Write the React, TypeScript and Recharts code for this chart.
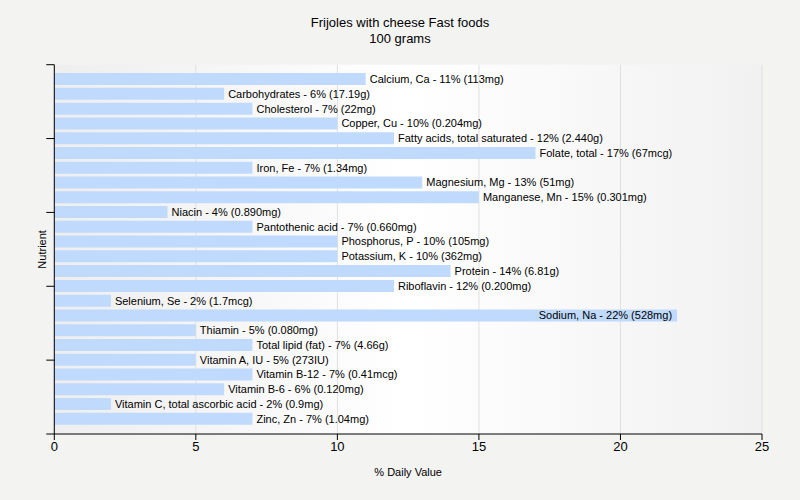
import React from 'react';
import { BarChart, Bar, XAxis, YAxis, CartesianGrid, LabelList, Label } from 'recharts';

const nutrients = [
  'Calcium, Ca', 'Carbohydrates', 'Cholesterol', 'Copper, Cu', 'Fatty acids, total saturated',
  'Folate, total', 'Iron, Fe', 'Magnesium, Mg', 'Manganese, Mn', 'Niacin', 'Pantothenic acid',
  'Phosphorus, P', 'Potassium, K', 'Protein', 'Riboflavin', 'Selenium, Se', 'Sodium, Na',
  'Thiamin', 'Total lipid (fat)', 'Vitamin A, IU', 'Vitamin B-12', 'Vitamin B-6',
  'Vitamin C, total ascorbic acid', 'Zinc, Zn',
];
const dailyValues = [11, 6, 7, 10, 12, 17, 7, 13, 15, 4, 7, 10, 10, 14, 12, 2, 22, 5, 7, 5, 7, 6, 2, 7];
const amounts = [
  '113mg', '17.19g', '22mg', '0.204mg', '2.440g', '67mcg', '1.34mg', '51mg', '0.301mg', '0.890mg',
  '0.660mg', '105mg', '362mg', '6.81g', '0.200mg', '1.7mcg', '528mg', '0.080mg', '4.66g', '273IU',
  '0.41mcg', '0.120mg', '0.9mg', '1.04mg',
];
const xTicks = [0, 5, 10, 15, 20, 25];
const yTicks = [0, 5, 10, 15, 20, 25];
const X_MAX = 25;

const data = nutrients.map((n, i) => ({
  pos: i + 1,
  value: dailyValues[i],
  label: `${n} - ${dailyValues[i]}% (${amounts[i]})`,
}));

const FONT = '"Liberation Sans", Arial, sans-serif';

let ctx: CanvasRenderingContext2D | null = null;
function measure(text: string): number {
  if (!ctx) {
    const c = document.createElement('canvas');
    ctx = c.getContext('2d');
  }
  if (!ctx) return text.length * 5.5;
  ctx.font = `11px ${FONT}`;
  return ctx.measureText(text).width;
}

function BarLabel(props: any) {
  const { x, y, width, height, value, index } = props;
  const v = dailyValues[index];
  const plotRight = v > 0 ? x + (width / v) * X_MAX : x + width;
  const end = x + width;
  const w = measure(String(value));
  const cy = y + height / 2;
  const outside = end + 4 + w <= plotRight;
  return (
    <text
      x={outside ? end + 4 : end - 5}
      y={cy}
      dy="0.355em"
      textAnchor={outside ? 'start' : 'end'}
      fill="#000"
      fontSize={11}
      fontFamily={FONT}
    >
      {value}
    </text>
  );
}

export default function App() {
  return (
    <div style={{ position: 'absolute', left: 0, top: 0, width: 800, height: 500, background: '#f3f3f2', fontFamily: FONT }}>
      <div style={{ position: 'absolute', top: 15, left: 0, width: 800, textAlign: 'center', fontSize: 13, lineHeight: '16px', color: '#000' }}>
        <div>Frijoles with cheese Fast foods</div>
        <div>100 grams</div>
      </div>
      <BarChart
        width={800}
        height={500}
        data={data}
        layout="vertical"
        margin={{ top: 64.7, right: 38, bottom: 26, left: 0 }}
        style={{ position: 'absolute', left: 0, top: 0 }}
      >
        <defs>
          <linearGradient id="bgGrad" x1="0" y1="0" x2="1" y2="0">
            <stop offset="0%" stopColor="#eeeeee" />
            <stop offset="50%" stopColor="#ffffff" />
            <stop offset="100%" stopColor="#f1f1f1" />
          </linearGradient>
        </defs>
        <CartesianGrid horizontal={false} stroke="#e0e0e0" fill="url(#bgGrad)" fillOpacity={1} />
        <XAxis
          type="number"
          dataKey="value"
          domain={[0, X_MAX]}
          ticks={xTicks}
          interval={0}
          height={40}
          axisLine={{ stroke: '#000' }}
          tickLine={{ stroke: '#000' }}
          tickSize={6}
          tick={{ fill: '#000', fontSize: 13, fontFamily: FONT }}
        >
          <Label value="% Daily Value" position="insideBottom" offset={-2} fill="#000" fontSize={11} fontFamily={FONT} />
        </XAxis>
        <YAxis
          type="number"
          dataKey="pos"
          domain={[0, 25]}
          ticks={yTicks}
          interval={0}
          width={54.3}
          axisLine={{ stroke: '#000' }}
          tickLine={{ stroke: '#000' }}
          tickSize={8}
          tickFormatter={() => ''}
        >
          <Label value="Nutrient" angle={-90} position="center" dx={15} fill="#000" fontSize={11} fontFamily={FONT} />
        </YAxis>
        <Bar dataKey="value" fill="#bfdafd" barSize={12} isAnimationActive={false}>
          <LabelList dataKey="label" content={BarLabel} />
        </Bar>
      </BarChart>
    </div>
  );
}
